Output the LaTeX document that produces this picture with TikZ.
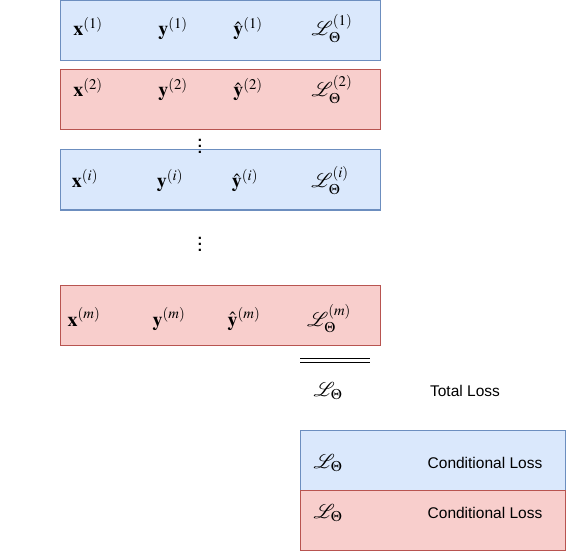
\documentclass[tikz,border=0pt]{standalone}
\usepackage{mathptmx}
\usepackage[no-math]{fontspec}
\setmainfont{Liberation Sans}
\usepackage{xcolor}
\usepackage{tikz}

\definecolor{blueFill}{HTML}{DAE8FC}
\definecolor{blueLine}{HTML}{6C8EBF}
\definecolor{redFill}{HTML}{F8CECC}
\definecolor{redLine}{HTML}{B85450}

\newcommand{\tallvdots}{\vbox{\baselineskip6pt\lineskiplimit0pt\hbox{.}\hbox{.}\hbox{.}}}

\tikzstyle{bluerow} = [rectangle, anchor=north west, minimum width=320pt, minimum height=60pt, inner sep=0pt, outer sep=0pt, line width=1pt, draw=blueLine, fill=blueFill]
\tikzstyle{redrow} = [rectangle, anchor=north west, minimum width=320pt, minimum height=60pt, inner sep=0pt, outer sep=0pt, line width=1pt, draw=redLine, fill=redFill]
\tikzstyle{lossrow} = [minimum width=265.5pt]
\tikzstyle{mathlabel} = [anchor=base, inner sep=0pt, font=\fontsize{20}{24}\selectfont]
\tikzstyle{textlabel} = [anchor=base, inner sep=0pt, font=\fontsize{15.5}{19}\selectfont]
\tikzstyle{dotlabel} = [inner sep=0pt, font=\fontsize{15}{18}\selectfont\bfseries]
\tikzstyle{sumline} = [line width=1pt, double, double distance=3pt]

\begin{document}
\begin{tikzpicture}[x=1pt, y=-1pt]

    \useasboundingbox (0,0) rectangle (566,551);

    % Rows
    \node (row1) [bluerow] at (60,0.5) {};
    \node (row2) [redrow] at (60,70) {};
    \node (rowi) [bluerow] at (60,150) {};
    \node (rowm) [redrow] at (60,285) {};

    % Row 1
    \node (x1) [mathlabel] at (88,36) {$\mathbf{x}^{(1)}$};
    \node (y1) [mathlabel] at (173,36) {$\mathbf{y}^{(1)}$};
    \node (yh1) [mathlabel] at (248,36) {$\hat{\mathbf{y}}^{(1)}$};
    \node (l1) [mathlabel] at (332,36) {$\mathcal{L}_\Theta^{(1)}$};

    % Row 2
    \node (x2) [mathlabel] at (88,97) {$\mathbf{x}^{(2)}$};
    \node (y2) [mathlabel] at (173,97) {$\mathbf{y}^{(2)}$};
    \node (yh2) [mathlabel] at (248,97) {$\hat{\mathbf{y}}^{(2)}$};
    \node (l2) [mathlabel] at (332,97) {$\mathcal{L}_\Theta^{(2)}$};

    % Row i
    \node (xi) [mathlabel] at (85,188) {$\mathbf{x}^{(i)}$};
    \node (yi) [mathlabel] at (170,188) {$\mathbf{y}^{(i)}$};
    \node (yhi) [mathlabel] at (245,188) {$\hat{\mathbf{y}}^{(i)}$};
    \node (li) [mathlabel] at (330,188) {$\mathcal{L}_\Theta^{(i)}$};

    % Row m
    \node (xm) [mathlabel] at (84,326) {$\mathbf{x}^{(m)}$};
    \node (ym) [mathlabel] at (169,326) {$\mathbf{y}^{(m)}$};
    \node (yhm) [mathlabel] at (244,326) {$\hat{\mathbf{y}}^{(m)}$};
    \node (lm) [mathlabel] at (329,326) {$\mathcal{L}_\Theta^{(m)}$};

    % Dots
    \node (dots1) [dotlabel] at (200,146) {\tallvdots};
    \node (dots2) [dotlabel] at (200,244) {\tallvdots};

    % Sum
    \coordinate (sumL) at (300,360);
    \coordinate (sumR) at (370,360);
    \draw [sumline] (sumL) -- (sumR);
    \node (total) [mathlabel] at (328,396) {$\mathcal{L}_\Theta$};
    \node (totaltext) [textlabel] at (465,396) {Total Loss};

    % Conditional losses
    \node (cond1) [bluerow, lossrow] at (300,430) {};
    \node (cond2) [redrow, lossrow] at (300,490) {};
    \node (lc1) [mathlabel] at (328,468) {$\mathcal{L}_\Theta$};
    \node (condtext1) [textlabel] at (485,468) {Conditional Loss};
    \node (lc2) [mathlabel] at (328,518) {$\mathcal{L}_\Theta$};
    \node (condtext2) [textlabel] at (485,518) {Conditional Loss};

\end{tikzpicture}
\end{document}
